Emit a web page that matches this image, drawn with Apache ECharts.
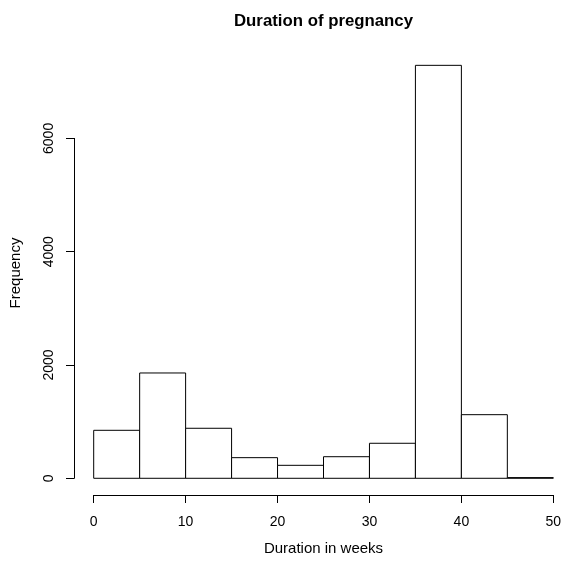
<!DOCTYPE html>
<html>
<head>
<meta charset="utf-8">
<script src="https://cdn.jsdelivr.net/npm/echarts@6/dist/echarts.min.js"></script>
<style>
  html, body { margin: 0; padding: 0; background: #fff; }
  #main { width: 565px; height: 562px; }
</style>
</head>
<body>
<div id="main"></div>
<script>
// histogram data
var binStart = [0, 5, 10, 15, 20, 25, 30, 35, 40, 45];
var binEnd   = [5, 10, 15, 20, 25, 30, 35, 40, 45, 50];
var counts   = [847, 1859, 883, 364, 229, 381, 618, 7290, 1123, 12];
var xTicks   = [0, 10, 20, 30, 40, 50];
var yTicks   = [0, 2000, 4000, 6000];

var font = '"Liberation Sans", Arial, Helvetica, sans-serif';

var bars = [];
for (var i = 0; i < counts.length; i++) {
    bars.push([binStart[i], binEnd[i], counts[i]]);
}

var chart = echarts.init(document.getElementById('main'), null, {renderer: 'canvas'});

// R pads the count range by 4% on both ends, so the plot box runs below 0
var option = {
    backgroundColor: '#fff',
    animation: false,
    title: {
        text: 'Duration of pregnancy',
        left: 318.5,
        textAlign: 'center',
        top: 8,
        textStyle: {fontFamily: font, fontSize: 16.8, fontWeight: 'bold', color: '#000'}
    },
    grid: [
        {left: 92.7, right: 11.7, top: 51, bottom: 67},
        {left: 74, width: 1, top: 138.4, bottom: 83.7}
    ],
    xAxis: [
        {
            gridIndex: 0,
            type: 'value',
            min: xTicks[0],
            max: xTicks[xTicks.length - 1],
            interval: 10,
            name: 'Duration in weeks',
            nameLocation: 'middle',
            nameGap: 46,
            nameTextStyle: {fontFamily: font, fontSize: 15, color: '#000'},
            axisLine: {show: true, onZero: false, lineStyle: {color: '#000', width: 1}},
            axisTick: {show: true, length: 8, lineStyle: {color: '#000'}},
            axisLabel: {fontFamily: font, fontSize: 14, color: '#000', margin: 20},
            splitLine: {show: false}
        },
        {gridIndex: 1, type: 'value', show: false, min: 0, max: 1}
    ],
    yAxis: [
        {
            gridIndex: 0,
            type: 'value',
            min: -295,
            max: 7543,
            offset: 18.7,
            name: 'Frequency',
            nameLocation: 'middle',
            nameGap: 52,
            nameRotate: 90,
            nameTextStyle: {fontFamily: font, fontSize: 15, color: '#000'},
            axisLine: {show: false},
            axisTick: {show: false},
            axisLabel: {show: false},
            splitLine: {show: false}
        },
        {
            gridIndex: 1,
            type: 'value',
            min: yTicks[0],
            max: yTicks[yTicks.length - 1],
            interval: 2000,
            axisLine: {show: true, lineStyle: {color: '#000', width: 1}},
            axisTick: {show: true, length: 8, lineStyle: {color: '#000'}},
            axisLabel: {
                fontFamily: font, fontSize: 14, color: '#000', rotate: 90, margin: 18,
                formatter: function (v) { return String(v); }
            },
            splitLine: {show: false}
        }
    ],
    series: [{
        type: 'custom',
        xAxisIndex: 0,
        yAxisIndex: 0,
        data: bars,
        renderItem: function (params, api) {
            var p0 = api.coord([api.value(0), api.value(2)]);
            var p1 = api.coord([api.value(1), 0]);
            return {
                type: 'rect',
                shape: {x: p0[0], y: p0[1], width: p1[0] - p0[0], height: p1[1] - p0[1]},
                style: {fill: '#fff', stroke: '#000', lineWidth: 1}
            };
        }
    }]
};

chart.setOption(option);
</script>
</body>
</html>
